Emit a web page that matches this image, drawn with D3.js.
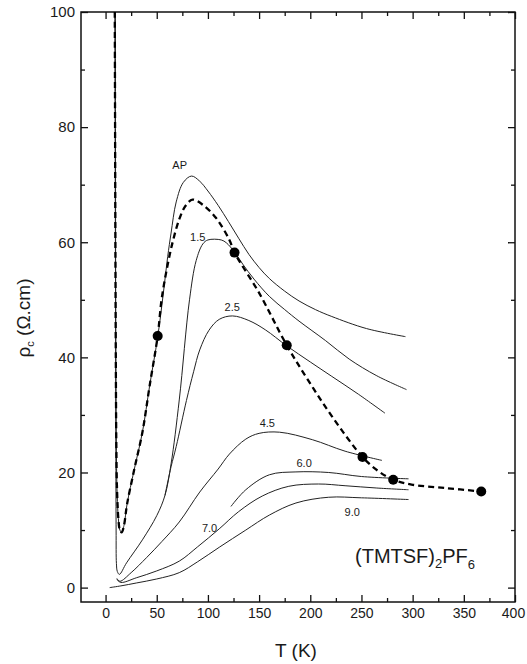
<!DOCTYPE html>
<html><head><meta charset="utf-8">
<script src="https://cdn.jsdelivr.net/npm/d3@7"></script>
<style>
body{margin:0;background:#fff;}
text{font-family:"Liberation Sans",Arial,sans-serif;fill:#1a1a1a;}
</style></head>
<body>
<svg id="c" width="527" height="664"></svg>
<script>
// ---- data (T in K, rho_c in Ohm.cm) ----
const xTicks = [0,50,100,150,200,250,300,350,400];
const xMinor = [25,75,125,175,225,275,325,375];
const yTicks = [0,20,40,60,80,100];
const yMinor = [10,30,50,70,90];

const constVolume = [[9,100],[9.3,80],[9.6,60],[10,40],[10.5,25],[11.2,17],[12.5,12],[14,10],[15.8,9.6],[18,10.8],[21,14.5],[28,20.5],[36,27],[43,35],[50.9,43.7],[54.7,50],[60,55.5],[65.5,60],[72,64],[78,66.3],[85,67.4],[95,66.5],[108,64.2],[121,60.4],[126,58.2],[150,51.2],[177,42.1],[198,36],[221,29.8],[251,22.7],[266,20.3],[281,18.75],[299,17.9],[332,17.3],[367,16.7]];
const constVolumeDots = [[50.9,43.7],[126,58.2],[177,42.1],[251,22.7],[281,18.75],[367,16.7]];

const curveAP  = [[9,100],[9.3,80],[9.6,60],[10,40],[10.5,25],[11.2,17],[12.5,12],[14,10],[15.8,9.6],[18,10.8],[21,14.5],[28,20.5],[36,27],[43,35],[50.9,43.5],[56,50.5],[60.7,57.5],[64,61.6],[69,67],[76,70.4],[84,71.5],[92,70.6],[100,68.9],[110,66.4],[120,63.6],[130,60.7],[140,57.9],[150,55.6],[160,53.7],[175,51.5],[189,49.8],[205,48.3],[221,47.1],[255,45],[293,43.6]];
const curve15  = [[9.6,100],[9.8,60],[10,30],[10.3,10],[10.6,4.2],[11.5,2.8],[13.5,2.3],[20.5,4.3],[36,8.3],[50,12.5],[58,16],[64,21.5],[72,32.6],[82,50],[88.5,56.8],[95,59.7],[100,60.4],[113,60.4],[118,59.9],[126,58.3],[134,56.2],[145,53.6],[160,50.6],[175,48.3],[189,46.3],[215,42.9],[238,39.7],[265,36.8],[294,34.4]];
const curve25  = [[58,16],[64,21],[69,24.5],[79,32.5],[86,37.5],[92,41.3],[101,44.7],[111,46.6],[124,47.2],[140,46.4],[156,44.8],[177,42],[200,39.2],[221,36.7],[247,33.6],[273,30.3]];
const curve45  = [[11,1.6],[14,1.1],[25,2.6],[40,5.2],[55,8],[72,11.4],[92,16.6],[110,20.6],[121,23.2],[137,25.8],[150,26.8],[170,27],[202,25.7],[234,23.7],[270,22.1]];
const curve60  = [[122.5,14.1],[137,17],[160,19.6],[186,20.1],[218,20],[250,19.3],[296,18.9]];
const curve70  = [[11,1.4],[15,0.9],[30,1.7],[50,2.9],[72,4.6],[90,7.1],[111,10.2],[130,13.2],[153,15.9],[179,17.6],[208,18],[234,17.7],[265,17.3],[296,17]];
const curve90  = [[4,0],[15,0.3],[30,0.8],[50,1.5],[72,2.6],[90,4.5],[111,7],[137,10],[160,12.6],[186,14.7],[218,15.7],[250,15.6],[296,15.3]];

const curveLabels = [["AP",72.4,72.7],["1.5",90,60.3],["2.5",123.7,48.1],["4.5",158,27.9],["6.0",194,21],["7.0",101.6,9.7],["9.0",241,12.4]];

// ---- layout ----
const svg = d3.select("#c");
const L=81,R=515,T=12,B=602;
const x = d3.scaleLinear().domain([-24,400]).range([L,R]);
const y = d3.scaleLinear().domain([-2.5,100]).range([B,T]);

const line = d3.line().x(d=>x(d[0])).y(d=>y(d[1])).curve(d3.curveCatmullRom.alpha(0.5));

// axes
function addAxis(gen, tx, ty, vals, size, labels, fs){
  const a = gen.tickValues(vals).tickSizeInner(-size).tickSizeOuter(0).tickPadding(labels?6:0);
  if(!labels) a.tickFormat("");
  const g = svg.append("g").attr("transform",`translate(${tx},${ty})`).call(a);
  g.select(".domain").remove();
  g.selectAll("line").attr("stroke","#111").attr("stroke-width",1.3);
  g.selectAll("text").style("font-size",(fs||15)+"px").attr("fill","#1a1a1a").style("font-family","'Liberation Sans',Arial,sans-serif");
  return g;
}
const gx = addAxis(d3.axisBottom(x), 0, B, xTicks, 7, true, 14);
gx.selectAll("text").filter(d=>d===400).attr("dx",-2);
addAxis(d3.axisBottom(x), 0, B, xMinor, 4, false);
addAxis(d3.axisTop(x), 0, T, xTicks, 7, false);
addAxis(d3.axisTop(x), 0, T, xMinor, 4, false);
addAxis(d3.axisLeft(y), L, 0, yTicks, 7, true, 15);
addAxis(d3.axisLeft(y), L, 0, yMinor, 4, false);
addAxis(d3.axisRight(y), R, 0, yTicks, 7, false);
addAxis(d3.axisRight(y), R, 0, yMinor, 4, false);
svg.append("rect").attr("x",L).attr("y",T).attr("width",R-L).attr("height",B-T)
  .attr("fill","none").attr("stroke","#111").attr("stroke-width",1.5);

// solid curves
[curveAP,curve15,curve25,curve45,curve60,curve70,curve90].forEach(c=>{
  svg.append("path").datum(c).attr("d",line).attr("fill","none")
    .attr("stroke","#222").attr("stroke-width",1);
});
// constant-volume dashed curve
svg.append("path").datum(constVolume).attr("d",line).attr("fill","none")
  .attr("stroke","#000").attr("stroke-width",2.3).attr("stroke-dasharray","6,4");
svg.selectAll("circle.dot").data(constVolumeDots).join("circle")
  .attr("cx",d=>x(d[0])).attr("cy",d=>y(d[1])).attr("r",5).attr("fill","#000");

// curve labels
svg.selectAll("text.cl").data(curveLabels).join("text").attr("class","cl")
  .attr("x",d=>x(d[1])).attr("y",d=>y(d[2])).attr("text-anchor","middle")
  .style("font-size","11px").text(d=>d[0]);

// compound label
const t = svg.append("text").attr("x",355).attr("y",563).style("font-size","20px");
t.append("tspan").text("(TMTSF)");
t.append("tspan").attr("dy",5).style("font-size","13px").text("2");
t.append("tspan").attr("dy",-5).text("PF");
t.append("tspan").attr("dy",6).style("font-size","13px").text("6");

// axis titles
svg.append("text").attr("x",296).attr("y",657).attr("text-anchor","middle")
  .style("font-size","19px").text("T (K)");
const yl = svg.append("text").attr("transform","translate(30,318) rotate(-90)")
  .attr("text-anchor","middle").style("font-size","19px");
yl.append("tspan").text("ρ");
yl.append("tspan").attr("dy",4).style("font-size","11px").text("c");
yl.append("tspan").attr("dy",-4).text(" (Ω.cm)");
</script>
</body></html>
